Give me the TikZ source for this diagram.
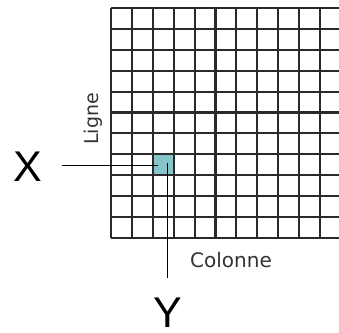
\documentclass[tikz,border=0pt]{standalone}
\usepackage{fontspec}
\setmainfont{Liberation Sans}
\newfontfamily\labfont{DejaVu Sans}
\definecolor{gridgray}{HTML}{2A2A2A}
\definecolor{cellteal}{HTML}{86C5C8}
\definecolor{labgray}{HTML}{333333}
\begin{document}
\begin{tikzpicture}[x=1pt,y=-1pt,
  gridline/.style={draw=gridgray,line width=2.1pt},
  cellbox/.style={fill=cellteal,draw=none,minimum size=20.9pt,inner sep=0pt},
  bigletter/.style={font=\fontsize{43}{43}\selectfont,inner sep=0pt,anchor=base,text=black},
  axislabel/.style={font=\labfont\fontsize{20}{20}\selectfont,inner sep=0pt,text=labgray},
  connector/.style={draw=black,line width=0.9pt}]
\clip (0,0) rectangle (339,332);
\fill[white] (0,0) rectangle (339,332);
% highlighted cell (column 3, row 8)
\node[cellbox] (cell) at (163.25,164.75) {};
% grid
\foreach \i in {0,...,11} {
  \draw[gridline] ({111+\i*20.9},8) -- ({111+\i*20.9},238);
}
\foreach \j in {0,...,11} {
  \draw[gridline] (111,{8+\j*20.9}) -- (345,{8+\j*20.9});
}
% labels
\node[axislabel,anchor=base] (colonne) at (231,267) {Colonne};
\node[axislabel,rotate=90,font=\labfont\fontsize{19}{19}\selectfont] (ligne) at (93,119) {Ligne};
\node[bigletter] (X) at (27.5,181) {X};
\node[bigletter] (Y) at (168,327.5) {Y};
% connectors
\coordinate (xstart) at (62,165);
\coordinate (yend) at (167,278);
\draw[connector] (xstart) -- ([xshift=-5pt]cell.center |- xstart);
\draw[connector] ([xshift=3.75pt,yshift=2pt]cell.center) -- (yend);
\end{tikzpicture}
\end{document}
